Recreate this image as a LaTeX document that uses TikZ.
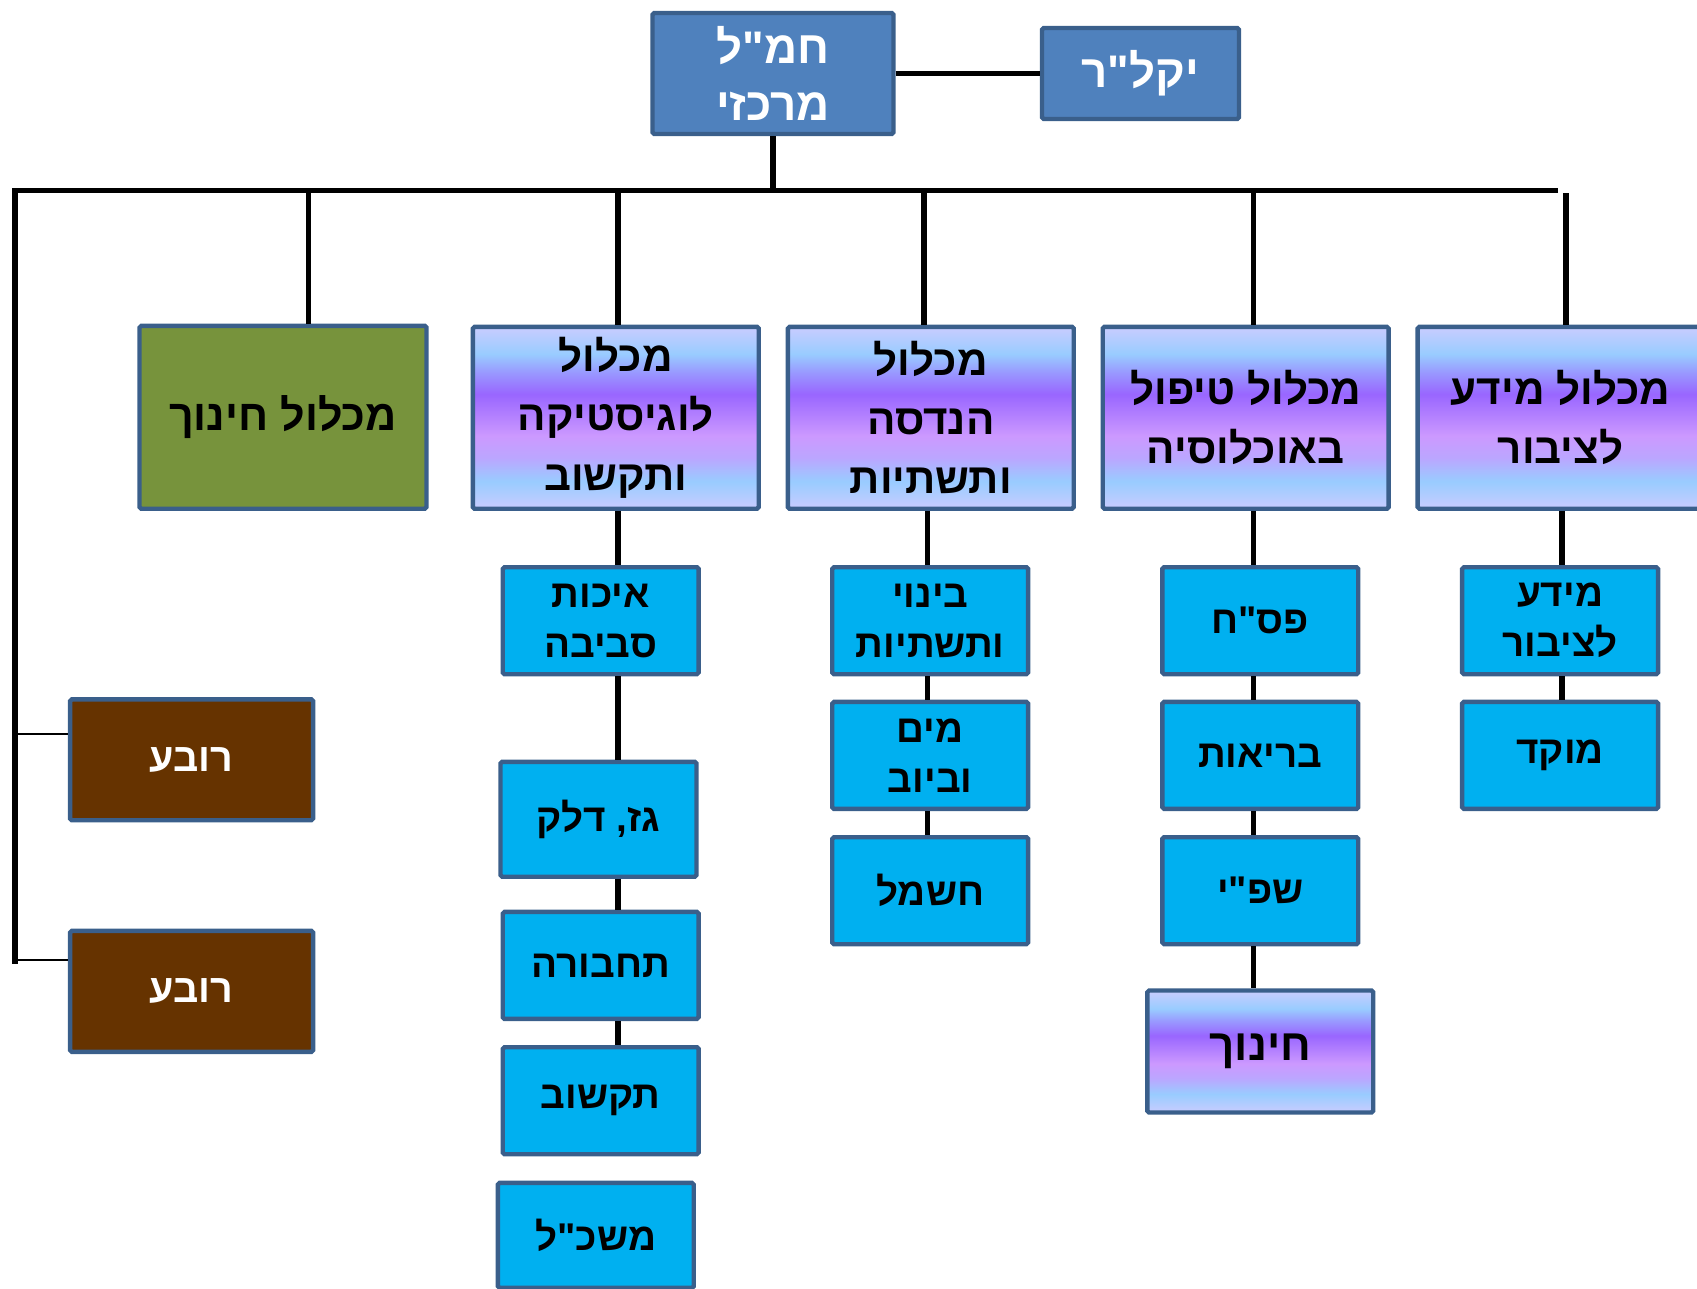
\documentclass[tikz,border=0pt]{standalone}
\usepackage{fontspec}
\setmainfont[Script=Hebrew,Ligatures=TeXOff]{Liberation Sans}
\TeXXeTstate=1
\usetikzlibrary{positioning}
\definecolor{frame}{HTML}{3A5F8B}
\definecolor{hqblue}{HTML}{4F81BD}
\definecolor{unitcyan}{HTML}{00B0F0}
\definecolor{wingolive}{HTML}{77933C}
\definecolor{rovabrown}{HTML}{663300}
\definecolor{fogLav}{HTML}{C9CCFF}
\definecolor{fogBlue}{HTML}{99CCFF}
\definecolor{fogPale}{HTML}{BBA6FF}
\definecolor{fogLilac}{HTML}{CC99FF}
\definecolor{fogViolet}{HTML}{9966FF}
\definecolor{fogMid}{HTML}{9999FF}
\pgfdeclareverticalshading{mklfog}{100bp}{color(0bp)=(fogLav); color(25bp)=(fogLav); color(32.5bp)=(fogBlue); color(39bp)=(fogPale); color(45bp)=(fogLilac); color(56.5bp)=(fogViolet); color(62.5bp)=(fogMid); color(67.5bp)=(fogBlue); color(75bp)=(fogLav); color(100bp)=(fogLav)}

\begin{document}
\begin{tikzpicture}[x=0.02cm,y=-0.02cm,
    boxstyle/.style={draw=frame,line width=2.5pt,rounded corners=1pt,inner sep=0pt,align=center},
    hqstyle/.style={boxstyle,fill=hqblue,text=white,font=\bfseries\fontsize{26}{32}\selectfont},
    wingstyle/.style={boxstyle,shading=mklfog,minimum width=5.72cm,minimum height=3.64cm,font=\bfseries\fontsize{24}{33.6}\selectfont},
    unitstyle/.style={boxstyle,fill=unitcyan,minimum width=3.92cm,minimum height=2.14cm,font=\bfseries\fontsize{22}{28.5}\selectfont},
    quarterstyle/.style={boxstyle,fill=rovabrown,text=white,minimum width=4.86cm,minimum height=2.42cm,font=\bfseries\fontsize{22.5}{26}\selectfont},
    linkstyle/.style={line width=3.1pt}]
    \useasboundingbox (0,0) rectangle (1697,1288);

    \node[hqstyle,minimum width=4.82cm,minimum height=2.42cm] (hq) at (773,73.5) {\beginR חמ"ל\endR\\\beginR מרכזי\endR};
    \node[hqstyle,minimum width=3.94cm,minimum height=1.82cm] (yklr) at (1140.5,73.5) {\beginR יקל"ר\endR};

    \node[boxstyle,fill=wingolive,minimum width=5.74cm,minimum height=3.66cm,font=\bfseries\fontsize{24.5}{33.6}\selectfont] (edu) at (283,417.3) {\beginR מכלול חינוך\endR};
    \node[wingstyle] (logi) at (615.8,417.8) {\beginR מכלול\endR\\\beginR לוגיסטיקה\endR\\\beginR ותקשוב\endR};
    \node[wingstyle] (eng) at (930.8,417.8) {\beginR מכלול\endR\\\beginR הנדסה\endR\\\beginR ותשתיות\endR};
    \node[wingstyle] (care) at (1245.7,417.8) {\beginR מכלול טיפול\endR\\\beginR באוכלוסיה\endR};
    \node[wingstyle] (info) at (1560.6,417.8) {\beginR מכלול מידע\endR\\\beginR לציבור\endR};

    \node[unitstyle] (envq) at (600.7,620.7) {\beginR איכות\endR\\\beginR סביבה\endR};
    \node[unitstyle,minimum height=2.3cm] (fuel) at (598.5,819.3) {\beginR גז, דלק\endR};
    \node[unitstyle] (trans) at (600.7,965.4) {\beginR תחבורה\endR};
    \node[unitstyle] (ict) at (600.7,1100.7) {\beginR תקשוב\endR};
    \node[unitstyle,minimum height=2.1cm] (mashkal) at (595.8,1235.4) {\beginR משכ"ל\endR};

    \node[unitstyle] (build) at (930.2,620.7) {\beginR בינוי\endR\\\beginR ותשתיות\endR};
    \node[unitstyle] (water) at (930.2,755.4) {\beginR מים\endR\\\beginR וביוב\endR};
    \node[unitstyle] (power) at (930.2,890.7) {\beginR חשמל\endR};

    \node[unitstyle] (pash) at (1260.3,620.7) {\beginR פס"ח\endR};
    \node[unitstyle] (health) at (1260.3,755.4) {\beginR בריאות\endR};
    \node[unitstyle] (shfi) at (1260.3,890.7) {\beginR שפ"י\endR};
    \node[wingstyle,minimum width=4.52cm,minimum height=2.44cm,font=\bfseries\fontsize{25}{30}\selectfont] (school) at (1260.3,1051.5) {\beginR חינוך\endR};

    \node[unitstyle] (pubinfo) at (1560.1,620.7) {\beginR מידע\endR\\\beginR לציבור\endR};
    \node[unitstyle] (moked) at (1560.1,755.4) {\beginR מוקד\endR};

    \node[quarterstyle] (rova1) at (191.6,759.8) {\beginR רובע\endR};
    \node[quarterstyle] (rova2) at (191.6,991.4) {\beginR רובע\endR};

    \coordinate (busL) at (15,190.5);
    \coordinate (busR) at (1558,190.5);
    \coordinate (busEnd) at (15,964);
    \draw[linkstyle] (hq) -- (yklr);
    \draw[linkstyle] (busR) -- (busL) -- (busEnd);
    \draw[linkstyle] (hq.south) -- (hq.south |- busL);
    \foreach \n/\x in {edu/308.5,logi/618,eng/924,care/1253.3} {
        \coordinate (tap\n) at (\x,190.5);
        \draw[linkstyle] (tap\n) -- (tap\n |- \n.north);
    }
    \coordinate (tapinfo) at (1566,193);
    \draw[linkstyle] (tapinfo) -- (tapinfo |- info.north);

    \coordinate (colL) at (618,0);
    \coordinate (colE) at (927.5,0);
    \coordinate (colC) at (1253.3,0);
    \coordinate (colI) at (1562,0);
    \foreach \a/\b/\c in {logi/envq/colL,envq/fuel/colL,fuel/trans/colL,trans/ict/colL,
        eng/build/colE,build/water/colE,water/power/colE,
        care/pash/colC,pash/health/colC,health/shfi/colC,shfi/school/colC,
        info/pubinfo/colI,pubinfo/moked/colI}
        \draw[linkstyle] (\a.south -| \c) -- (\b.north -| \c);

    \coordinate (tapQ1) at (15,734);
    \coordinate (tapQ2) at (15,960);
    \draw[line width=0.9pt] (tapQ1) -- (tapQ1 -| rova1.west);
    \draw[line width=0.9pt] (tapQ2) -- (tapQ2 -| rova2.west);
\end{tikzpicture}
\end{document}
